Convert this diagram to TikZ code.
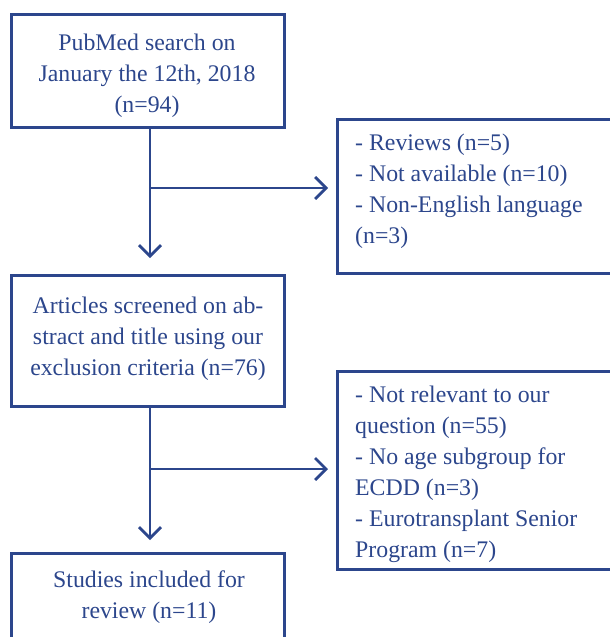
\documentclass[tikz,border=0pt]{standalone}
\usepackage{fontspec}
\setmainfont{Liberation Serif}
\usetikzlibrary{arrows.meta}
\definecolor{fc}{RGB}{44,70,140}
\begin{document}
\begin{tikzpicture}[x=1pt,y=-1pt,
  box/.style={draw=fc,line width=3pt,anchor=north west,inner sep=0pt},
  txt/.style={text=fc,font=\fontsize{23.8}{31}\selectfont,inner sep=0pt},
  conn/.style={draw=fc,line width=2.8pt,-{Straight Barb[length=11pt,width=22pt,line width=2.8pt]}}]
\useasboundingbox (0,0) rectangle (610,637);
% boxes
\node[box,minimum width=273pt,minimum height=113pt] (b1) at (10,13) {};
\node[box,minimum width=300pt,minimum height=154pt] (b2) at (336,118) {};
\node[box,minimum width=273pt,minimum height=131pt] (b3) at (10,274) {};
\node[box,minimum width=300pt,minimum height=198pt] (b4) at (336,370) {};
\node[box,minimum width=273pt,minimum height=120pt] (b5) at (10,552) {};
% texts
\node[txt,align=center,anchor=base] (t1) at (147,112) {PubMed search on\\January the 12th, 2018\\(n=94)};
\node[txt,align=left,anchor=base west] (t2) at (355,243) {- Reviews (n=5)\\- Not available (n=10)\\- Non-English language\\(n=3)};
\node[txt,align=center,anchor=base] (t3) at (148,375) {Articles screened on ab-\\stract and title using our\\exclusion criteria (n=76)};
\node[txt,align=left,anchor=base west] (t4) at (355,557) {- Not relevant to our\\question (n=55)\\- No age subgroup for\\ECDD (n=3)\\- Eurotransplant Senior\\Program (n=7)};
\node[txt,align=center,anchor=base] (t5) at (149,618) {Studies included for\\review (n=11)};
% connectors
\coordinate (j1) at (150,188);
\coordinate (j2) at (150,469);
\draw[conn,shorten >=16pt] (b1.south -| j1) -- (b3.north -| j1);
\draw[conn,shorten >=8pt] (j1) -- (b2.west |- j1);
\draw[conn,shorten >=12pt] (b3.south -| j2) -- (b5.north -| j2);
\draw[conn,shorten >=8pt] (j2) -- (b4.west |- j2);
\end{tikzpicture}
\end{document}
